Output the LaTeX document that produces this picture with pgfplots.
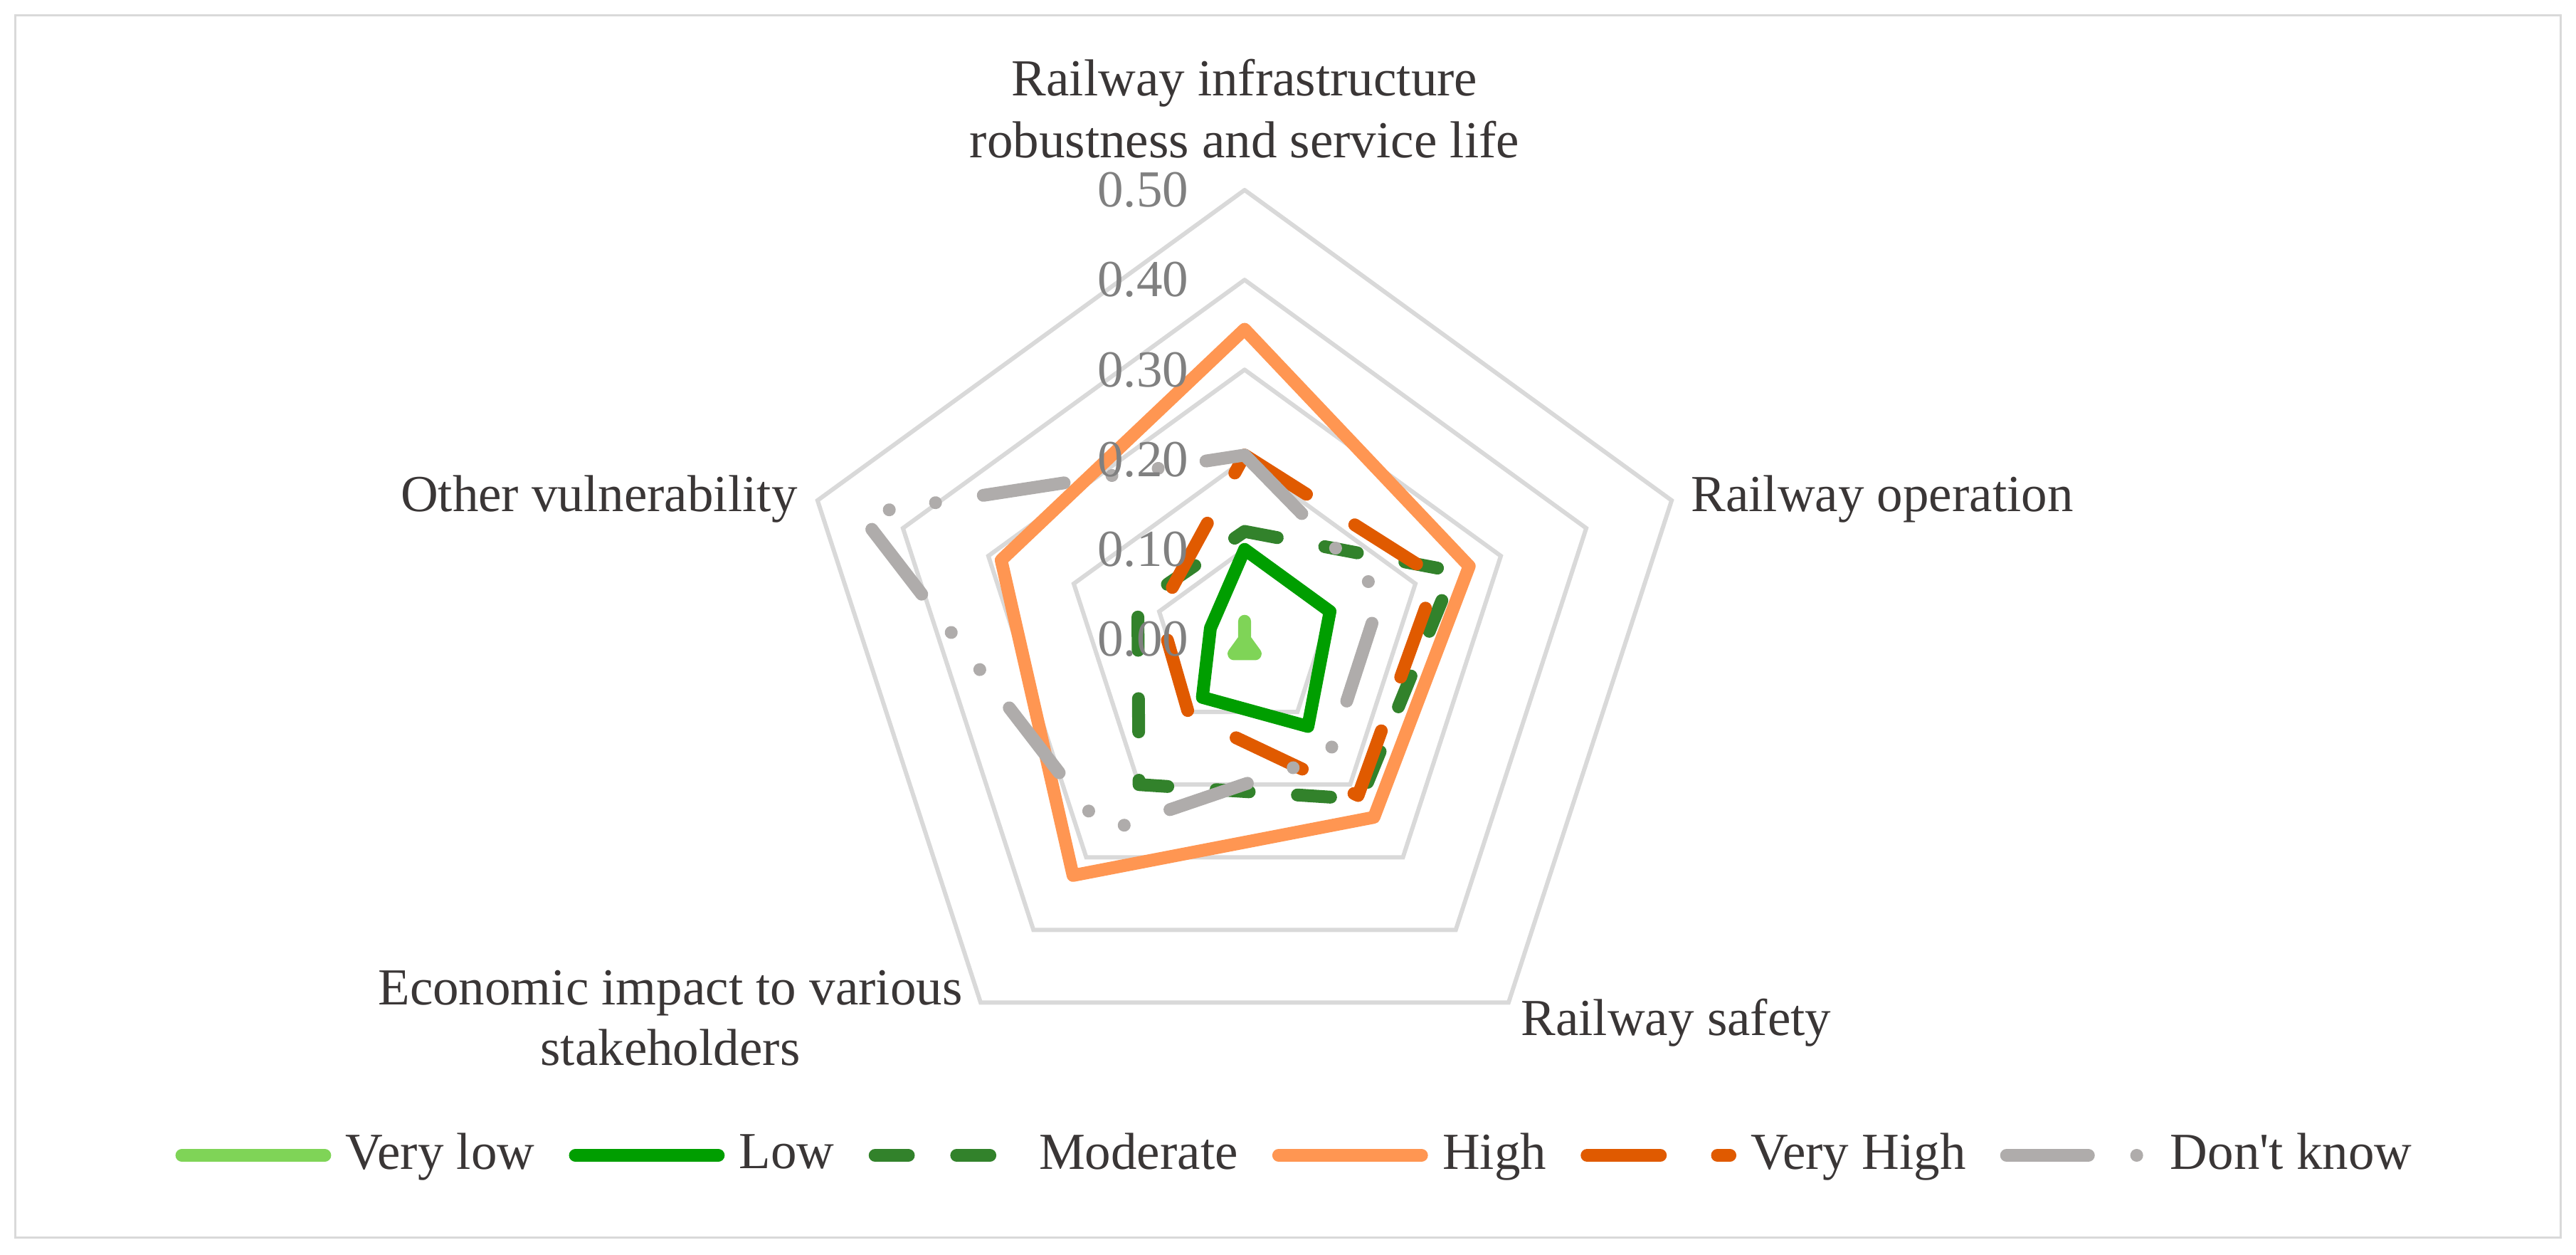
\documentclass[border=0pt]{standalone}
\usepackage{fontspec}
\setmainfont{Liberation Serif}
\usepackage{pgfplots}
\usepackage{pgfplotstable}
\pgfplotsset{compat=1.18}

\definecolor{cVL}{RGB}{127,212,87}
\definecolor{cL}{RGB}{0,158,0}
\definecolor{cM}{RGB}{50,130,43}
\definecolor{cH}{RGB}{255,150,82}
\definecolor{cVH}{RGB}{224,90,0}
\definecolor{cDK}{RGB}{175,172,171}
\definecolor{cGrid}{RGB}{217,217,217}
\definecolor{cTick}{RGB}{128,128,128}
\definecolor{cText}{RGB}{58,54,54}

% angle (deg) and value for each category:
% 90 = infrastructure, 18 = operation, -54 = safety, -126 = economic, 162 = other
\pgfplotstableread{
a r
90 0.02
18 0.00
-54 0.02
-126 0.02
162 0.00
90 0.02
}\verylow
\pgfplotstableread{
a r
90 0.100
18 0.100
-54 0.120
-126 0.080
162 0.040
90 0.100
}\low
\pgfplotstableread{
a r
90 0.120
18 0.245
-54 0.220
-126 0.200
162 0.125
90 0.120
}\moderate
\pgfplotstableread{
a r
90 0.345
18 0.263
-54 0.245
-126 0.325
162 0.285
90 0.345
}\high
\pgfplotstableread{
a r
90 0.205
18 0.225
-54 0.215
-126 0.105
162 0.100
90 0.205
}\veryhigh
\pgfplotstableread{
a r
90 0.205
18 0.160
-54 0.160
-126 0.265
162 0.450
90 0.205
}\dontknow
\pgfplotstableread{
a g1 g2 g3 g4 g5
90 0.1 0.2 0.3 0.4 0.5
18 0.1 0.2 0.3 0.4 0.5
-54 0.1 0.2 0.3 0.4 0.5
-126 0.1 0.2 0.3 0.4 0.5
162 0.1 0.2 0.3 0.4 0.5
90 0.1 0.2 0.3 0.4 0.5
}\gridtab

\begin{document}
\begin{tikzpicture}
\useasboundingbox (-239.59pt,-118.49pt) rectangle (256.30pt,123.01pt);
\draw[cGrid, line width=0.4pt] (-236.7pt,-115.1pt) rectangle (253.4pt,120.1pt);
\begin{axis}[
  at={(0pt,0pt)}, anchor=origin,
  x=172.88pt, y=172.88pt,
  xmin=-1.3859, xmax=1.4826, ymin=-0.6854, ymax=0.7116,
  hide axis, clip=false,
  every axis plot/.append style={line cap=round, line join=round, line width=2.47pt},
  legend columns=6,
  legend style={at={(axis cs:0.0594,-0.5745)}, anchor=center, draw=none, fill=none,
    font=\fontsize{10pt}{12pt}\selectfont, text=cText,
    /tikz/every odd column/.append style={column sep=1.2pt},
    /tikz/every even column/.append style={column sep=5.0pt},
    nodes={inner sep=1.6pt}},
  legend image code/.code={\draw[#1] (1.2pt,0pt) -- (28.7pt,0pt);},
]
\foreach \g in {g1,g2,g3,g4,g5}{
  \addplot[cGrid, line width=0.82pt, line join=miter, forget plot]
    table[x expr={\thisrow{\g}*cos(\thisrow{a})}, y expr={\thisrow{\g}*sin(\thisrow{a})}] {\gridtab};
}
\addplot[cVL] table[x expr={\thisrow{r}*cos(\thisrow{a})}, y expr={\thisrow{r}*sin(\thisrow{a})}] {\verylow};
\addlegendentry{Very low}
\addplot[cL] table[x expr={\thisrow{r}*cos(\thisrow{a})}, y expr={\thisrow{r}*sin(\thisrow{a})}] {\low};
\addlegendentry{Low}
\addplot[cM, dash pattern=on 6.4pt off 9.3pt] table[x expr={\thisrow{r}*cos(\thisrow{a})}, y expr={\thisrow{r}*sin(\thisrow{a})}] {\moderate};
\addlegendentry{Moderate}
\addplot[cH] table[x expr={\thisrow{r}*cos(\thisrow{a})}, y expr={\thisrow{r}*sin(\thisrow{a})}] {\high};
\addlegendentry{High}
\addplot[cVH, dash pattern=on 14.1pt off 11pt] table[x expr={\thisrow{r}*cos(\thisrow{a})}, y expr={\thisrow{r}*sin(\thisrow{a})}] {\veryhigh};
\addlegendentry{Very High}
\addplot[cDK, dash pattern=on 15.75pt off 9.3pt on 0.01pt off 9.0pt on 0.01pt off 9.3pt] table[x expr={\thisrow{r}*cos(\thisrow{a})}, y expr={\thisrow{r}*sin(\thisrow{a})}] {\dontknow};
\addlegendentry{Don\textquotesingle t know}

% radial tick labels
\foreach \v/\t in {0/0.00, 0.1/0.10, 0.2/0.20, 0.3/0.30, 0.4/0.40, 0.5/0.50}{
  \edef\tmp{\noexpand\node[anchor=east, inner sep=0pt, text=cTick, font=\noexpand\fontsize{10pt}{12pt}\noexpand\selectfont] at (axis cs:-0.0613,\v) {\t};}
  \tmp
}
% category labels
\begin{scope}[every node/.style={inner sep=0pt, text=cText, font=\fontsize{10pt}{12pt}\selectfont}]
\node[anchor=base] at (axis cs:0,0.6053) {Railway infrastructure};
\node[anchor=base] at (axis cs:0,0.5364) {robustness and service life};
\node[anchor=base west] at (axis cs:0.4960,0.1426) {Railway operation};
\node[anchor=base west] at (axis cs:0.3067,-0.4406) {Railway safety};
\node[anchor=base] at (axis cs:-0.6395,-0.4065) {Economic impact to various};
\node[anchor=base] at (axis cs:-0.6395,-0.4744) {stakeholders};
\node[anchor=base east] at (axis cs:-0.4968,0.1426) {Other vulnerability};
\end{scope}
\end{axis}
\end{tikzpicture}
\end{document}
